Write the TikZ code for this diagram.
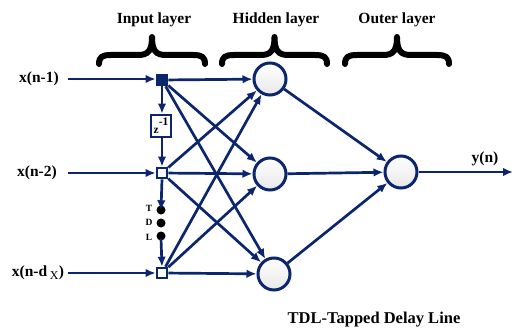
\documentclass[tikz,border=0pt]{standalone}
\usepackage{fontspec}
\setmainfont{Liberation Serif}
\usetikzlibrary{arrows.meta}
\definecolor{navy}{RGB}{12,38,110}
\newcommand{\bracepath}[2]{% #1 = left x, #2 = right x
  (#1,64) .. controls (#1,57) and (#1+3,55) .. (#1+12,55)
  -- ({(#1+#2)/2-14},55) .. controls ({(#1+#2)/2-4},55) and ({(#1+#2)/2},51) .. ({(#1+#2)/2},37)
  .. controls ({(#1+#2)/2},51) and ({(#1+#2)/2+4},55) .. ({(#1+#2)/2+14},55)
  -- (#2-12,55) .. controls (#2-3,55) and (#2,57) .. (#2,64)}
\begin{document}
\begin{tikzpicture}[x=1pt,y=-1pt,
 conn/.style={draw=navy,line width=2.7pt,-{Latex[length=10pt,width=8.5pt]}},
 neuron/.style={circle,draw=navy,line width=3pt,minimum size=32pt,inner sep=0pt,top color=white,bottom color=gray!18},
 tap/.style={rectangle,draw=navy,line width=2.6pt,fill=white,minimum size=10pt,inner sep=0pt},
 delaybox/.style={rectangle,draw=navy,line width=2.6pt,fill=white,minimum width=20pt,minimum height=22pt,inner sep=0pt,font=\bfseries\fontsize{11.5}{12}\selectfont},
 lbl/.style={font=\bfseries\fontsize{15.5}{17}\selectfont},
 small/.style={font=\bfseries\fontsize{9.5}{10}\selectfont},
 bracestroke/.style={draw=black,line width=6pt,line cap=round,line join=round},
 blackdot/.style={circle,fill=black,minimum size=9pt,inner sep=0pt}]
\useasboundingbox (0,0) rectangle (514,329);

% titles and braces
\node[lbl] (tin) at (154,20) {Input layer};
\node[lbl] (thid) at (276,20) {Hidden layer};
\node[lbl] (tout) at (397,20) {Outer layer};
\draw[bracestroke] \bracepath{99}{205};
\draw[bracestroke] \bracepath{222}{327};
\draw[bracestroke] \bracepath{345}{449};

% input labels
\node[lbl] (x1) at (39,79) {x(n-1)};
\node[lbl] (x2) at (37,173) {x(n-2)};
\node[lbl] (x3) at (38,273) {x(n-d\,\textsubscript{\mdseries\fontsize{12}{12}\selectfont X})};

% taps
\node[tap,fill=navy] (s1) at (162,80) {};
\node[delaybox] (z) at (161,126) {\raisebox{-4pt}{z}\raisebox{4pt}{-1}};
\node[tap] (s2) at (162,173) {};
\node[tap] (s3) at (162,273) {};

% TDL dots
\node[blackdot] (d1) at (161,210) {};
\node[blackdot] (d2) at (161,223) {};
\node[blackdot] (d3) at (161,236) {};
\node[small] (lt) at (149,208) {T};
\node[small] (ld) at (149,222) {D};
\node[small] (ll) at (149,237) {L};

% hidden and output
\node[neuron] (h1) at (270,79) {};
\node[neuron] (h2) at (270,174) {};
\node[neuron] (h3) at (274,274) {};
\node[neuron] (o) at (401,172) {};
\node[lbl] (yl) at (485,159) {y(n)};
\coordinate (yend) at (513,172);

% input arrows
\coordinate (a1) at (68,79);
\coordinate (a2) at (68,173);
\coordinate (a3) at (68,273);
\draw[conn] (a1) -- (s1.west |- a1);
\draw[conn] (a2) -- (s2);
\draw[conn] (a3) -- (s3);

% delay line
\draw[conn] (s1.south) -- (s1.south |- z.north);
\draw[conn] (s2.north |- z.south) -- (s2.north);
\draw[conn] (s2.south) -- ([yshift=-5pt]d1.north);
\draw[conn] ([yshift=2pt]d3.south) -- (s3.north);

% taps to hidden
\foreach \s in {s1,s2,s3}{
  \foreach \h in {h1,h2,h3}{
    \draw[conn] (\s) -- (\h);
  }
}
% hidden to output
\foreach \h in {h1,h2,h3}{
  \draw[conn] (\h) -- (o);
}
\draw[conn] (o) -- (yend);

\node[font=\bfseries\fontsize{16.5}{18}\selectfont] (cap) at (374,320) {TDL-Tapped Delay Line};
\end{tikzpicture}
\end{document}
